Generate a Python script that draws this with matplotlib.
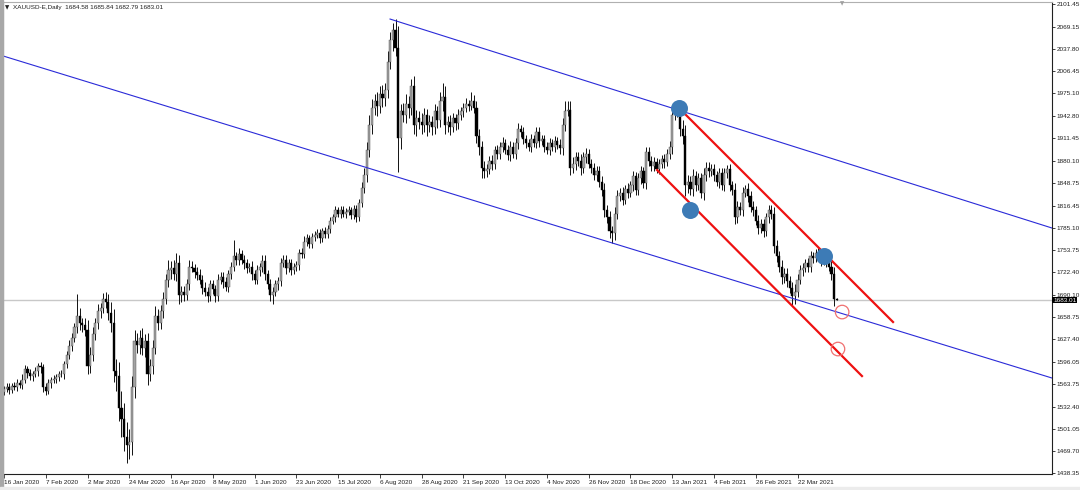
import matplotlib
matplotlib.use("Agg")
import matplotlib.pyplot as plt
import matplotlib.transforms as mtransforms
from matplotlib.patches import Rectangle
import numpy as np

# XAUUSD-E, Daily: closes, one per bar (16 Jan 2020 -> end Mar 2021)
CLOSE = [
    1557, 1560, 1556, 1562, 1560, 1565, 1563, 1570, 1585, 1580,
    1575, 1578, 1582, 1590, 1588, 1560, 1555, 1565, 1570, 1572,
    1574, 1578, 1578, 1592, 1605, 1618, 1630, 1645, 1660, 1650,
    1648, 1640, 1590, 1605, 1635, 1650, 1668, 1672, 1685, 1680,
    1665, 1650, 1582, 1575, 1530, 1515, 1490, 1478, 1482, 1560,
    1625, 1620, 1630, 1615, 1625, 1578, 1590, 1615, 1660, 1650,
    1668, 1685, 1712, 1725, 1728, 1720, 1735, 1690, 1695, 1690,
    1705, 1730, 1728, 1722, 1718, 1712, 1700, 1695, 1688, 1705,
    1698, 1688, 1712, 1716, 1708, 1702, 1720, 1730, 1745, 1740,
    1748, 1740, 1735, 1728, 1730, 1720, 1712, 1725, 1730, 1738,
    1720, 1705, 1690, 1695, 1705, 1710, 1735, 1740, 1728, 1735,
    1725, 1730, 1732, 1750, 1748, 1765, 1770, 1762, 1772, 1775,
    1778, 1770, 1780, 1776, 1784, 1795, 1800, 1810, 1805, 1810,
    1805, 1808, 1810, 1803, 1812, 1800, 1820, 1842, 1860, 1895,
    1930, 1955, 1965, 1958, 1975, 1968, 1980, 2020, 2050, 2065,
    2040, 1912, 1950, 1945, 1960, 1955, 1985, 1930, 1940, 1935,
    1930, 1945, 1930, 1935, 1928, 1950, 1938, 1965, 1970, 1930,
    1935, 1928, 1940, 1933, 1945, 1950, 1955, 1960, 1958, 1965,
    1955, 1915, 1900, 1870, 1865, 1868, 1880, 1875, 1895, 1890,
    1900, 1905, 1895, 1888, 1900, 1890, 1905, 1925, 1920, 1910,
    1905, 1900, 1910, 1905, 1920, 1908, 1910, 1900, 1895, 1905,
    1900, 1908, 1902, 1898, 1930, 1950, 1952, 1870, 1875, 1885,
    1880, 1870, 1885, 1890, 1875, 1870, 1860, 1865, 1850, 1838,
    1810, 1800, 1780, 1778, 1805, 1830, 1835, 1825, 1840, 1835,
    1845, 1858, 1838, 1855, 1865, 1848, 1892, 1880, 1872, 1878,
    1868, 1875, 1882, 1878, 1890, 1900, 1945, 1950, 1952, 1925,
    1915, 1845, 1850, 1840, 1858, 1845, 1855, 1835, 1860, 1870,
    1865, 1868, 1860, 1850, 1862, 1845, 1862, 1868, 1845, 1838,
    1800, 1815, 1810, 1835, 1840, 1830, 1815, 1810, 1795, 1785,
    1790, 1780, 1800, 1810, 1805, 1760, 1745, 1730, 1715, 1720,
    1710, 1700, 1688, 1695, 1712, 1725, 1728, 1735, 1730, 1745,
    1742, 1750, 1745, 1738, 1742, 1735, 1730, 1720, 1684.58, 1683.01,
]
FIRST_OPEN = 1553
LAST_OPEN = 1684.58

# upper / lower wick length (price units) per bar
WICK_UP = [
    4, 5, 6, 4, 5, 6, 5, 8, 6, 5,
    6, 5, 7, 4, 6, 5, 5, 6, 4, 5,
    5, 4, 6, 5, 6, 8, 7, 6, 31, 12,
    8, 10, 15, 12, 10, 8, 9, 7, 8, 10,
    12, 15, 20, 18, 20, 25, 22, 20, 18, 15,
    15, 12, 10, 14, 10, 12, 10, 12, 15, 10,
    8, 10, 8, 15, 10, 12, 15, 12, 8, 8,
    8, 10, 8, 6, 8, 9, 6, 8, 7, 6,
    7, 6, 8, 6, 7, 8, 6, 7, 23, 6,
    8, 6, 7, 6, 6, 8, 6, 7, 6, 8,
    8, 6, 8, 6, 7, 6, 8, 6, 7, 6,
    6, 5, 6, 5, 6, 8, 6, 5, 6, 5,
    5, 6, 5, 6, 5, 6, 5, 6, 5, 6,
    6, 5, 6, 5, 6, 5, 6, 8, 10, 12,
    15, 12, 10, 12, 10, 12, 10, 15, 12, 10,
    15, 30, 10, 12, 15, 12, 10, 15, 12, 10,
    12, 10, 8, 10, 8, 10, 8, 12, 20, 15,
    8, 10, 8, 6, 8, 6, 7, 8, 6, 12,
    8, 10, 10, 8, 10, 8, 7, 8, 6, 7,
    7, 8, 6, 7, 8, 6, 7, 8, 6, 7,
    7, 6, 8, 6, 7, 8, 6, 7, 6, 7,
    6, 7, 6, 8, 10, 15, 13, 12, 10, 8,
    8, 10, 7, 8, 6, 8, 7, 8, 7, 8,
    10, 8, 9, 8, 10, 8, 7, 8, 6, 8,
    7, 8, 6, 7, 8, 6, 8, 7, 6, 7,
    6, 7, 6, 8, 6, 8, 10, 8, 8, 10,
    12, 15, 10, 8, 10, 8, 7, 8, 10, 8,
    8, 7, 8, 6, 8, 7, 8, 6, 8, 7,
    10, 8, 7, 8, 6, 8, 7, 8, 6, 8,
    7, 8, 6, 8, 7, 10, 8, 8, 10, 8,
    8, 7, 8, 10, 8, 7, 8, 6, 8, 7,
    6, 5, 6, 7, 6, 5, 6, 8, 10, 1.26,
]
WICK_DN = [
    5, 4, 6, 5, 4, 6, 5, 6, 5, 7,
    5, 6, 4, 6, 8, 7, 6, 5, 6, 5,
    6, 5, 4, 6, 5, 6, 7, 6, 8, 10,
    10, 8, 12, 10, 8, 9, 8, 10, 7, 8,
    10, 12, 15, 20, 18, 25, 20, 25, 20, 18,
    15, 12, 14, 10, 12, 15, 10, 12, 8, 10,
    8, 10, 8, 10, 12, 8, 10, 12, 10, 8,
    7, 8, 6, 8, 7, 6, 8, 7, 8, 6,
    7, 8, 6, 7, 8, 6, 8, 7, 6, 8,
    7, 6, 8, 7, 6, 8, 7, 6, 8, 7,
    8, 7, 8, 13, 6, 8, 7, 6, 8, 6,
    6, 5, 6, 6, 5, 6, 5, 6, 5, 6,
    5, 6, 5, 6, 5, 6, 5, 6, 5, 6,
    5, 6, 5, 6, 5, 6, 5, 6, 8, 10,
    10, 12, 10, 15, 10, 12, 10, 12, 10, 15,
    12, 48, 15, 10, 12, 15, 10, 12, 15, 10,
    12, 10, 15, 10, 12, 10, 12, 10, 15, 12,
    10, 12, 8, 10, 8, 7, 8, 6, 8, 7,
    8, 10, 12, 14, 10, 8, 7, 8, 7, 8,
    7, 8, 6, 7, 8, 6, 7, 8, 6, 7,
    7, 6, 8, 6, 7, 8, 6, 7, 6, 7,
    6, 7, 6, 8, 10, 8, 7, 10, 8, 8,
    8, 10, 7, 8, 6, 8, 7, 8, 7, 8,
    10, 8, 9, 14, 10, 8, 7, 8, 6, 8,
    7, 8, 6, 7, 8, 6, 8, 7, 6, 7,
    6, 7, 6, 8, 6, 8, 10, 8, 8, 10,
    12, 15, 10, 8, 10, 8, 7, 8, 10, 8,
    8, 7, 8, 6, 8, 7, 8, 6, 8, 7,
    10, 8, 7, 8, 6, 8, 7, 8, 6, 8,
    7, 8, 6, 8, 7, 10, 8, 8, 10, 8,
    8, 7, 12, 10, 8, 7, 8, 6, 8, 7,
    6, 5, 6, 7, 6, 5, 6, 8, 10, 0.22,
]

DATE_LABELS = ["16 Jan 2020", "7 Feb 2020", "2 Mar 2020", "24 Mar 2020",
               "16 Apr 2020", "8 May 2020", "1 Jun 2020", "23 Jun 2020",
               "15 Jul 2020", "6 Aug 2020", "28 Aug 2020", "21 Sep 2020",
               "13 Oct 2020", "4 Nov 2020", "26 Nov 2020", "18 Dec 2020",
               "13 Jan 2021", "4 Feb 2021", "26 Feb 2021", "22 Mar 2021"]
BARS_PER_LABEL = 16
PRICE_TICKS = [2101.45, 2069.15, 2037.80, 2006.45, 1975.10, 1942.80, 1911.45,
               1880.10, 1848.75, 1816.45, 1785.10, 1753.75, 1722.40, 1690.10,
               1658.75, 1627.40, 1596.05, 1563.75, 1532.40, 1501.05, 1469.70,
               1438.35]
LAST = 1683.01
HEADER = "XAUUSD-E,Daily  1684.58 1685.84 1682.79 1683.01"

# drawn objects: (bar, price) anchors
BLUE_UPPER = [(147.9, 2080.3), (401.5, 1784.8)]
BLUE_LOWER = [(-1.5, 2029.4), (401.5, 1572.7)]
RED_UPPER = [(258.6, 1954.5), (340.6, 1651.9)]
RED_LOWER = [(250.2, 1866.8), (328.7, 1575.5)]
DOTS = [(258.6, 1954.5), (262.8, 1810.3), (314.2, 1745.2)]
RINGS = [(321.1, 1666.0), (319.5, 1613.7)]

plt.rcParams["font.family"] = ["Liberation Sans", "DejaVu Sans"]
FS = 4.6

c = np.array(CLOSE, dtype=float)
o = np.concatenate([[FIRST_OPEN], c[:-1]])
o[-1] = LAST_OPEN
hi = np.maximum(o, c) + np.array(WICK_UP)
lo = np.minimum(o, c) - np.array(WICK_DN)
x = np.arange(len(c))

fig = plt.figure(figsize=(10.8, 4.9), dpi=100, facecolor="white")
ax = fig.add_axes([3 / 1080, 16 / 490, 1049 / 1080, 472 / 490])
ax.set_xlim(-0.38, 401.5)
ax.set_ylim(1437.0, 2104.4)

# current price line
ax.axhline(LAST, color="#c8c8c8", lw=1.0, zorder=1)

# candles
ax.vlines(x, lo, hi, color="#111111", lw=0.7, zorder=2)
up = c >= o
body = np.maximum(np.abs(c - o), 0.8)
ax.bar(x[up], body[up], bottom=np.minimum(o, c)[up], width=0.82,
       color="#a3a3a3", edgecolor="#4a4a4a", linewidth=0.3, zorder=3)
ax.bar(x[~up], body[~up], bottom=np.minimum(o, c)[~up], width=0.82,
       color="black", edgecolor="black", linewidth=0.3, zorder=3)

# channel lines
for ln in (BLUE_UPPER, BLUE_LOWER):
    ax.plot(*zip(*ln), color="#2a2ad8", lw=0.8, zorder=4)
for ln in (RED_UPPER, RED_LOWER):
    ax.plot(*zip(*ln), color="#ee1111", lw=1.6, zorder=4)
ax.scatter(*zip(*DOTS), s=150, color="#3d7bb6", zorder=5, linewidths=0)
ax.scatter(*zip(*RINGS), s=95, facecolors="none", edgecolors="#f07070",
           linewidths=0.9, zorder=5)

# axes styling (MT4 look)
for side in ("left", "top"):
    ax.spines[side].set_color("#b0b0b0")
    ax.spines[side].set_linewidth(0.8)
for side in ("right", "bottom"):
    ax.spines[side].set_color("#202020")
    ax.spines[side].set_linewidth(0.8)

ax.yaxis.tick_right()
ax.set_yticks(PRICE_TICKS)
ax.set_yticklabels([f"{v:.2f}" for v in PRICE_TICKS])
ax.tick_params(axis="y", direction="out", length=2.5, width=0.6, pad=0.8,
               labelsize=FS, colors="#202020")

ticks = np.arange(len(DATE_LABELS)) * BARS_PER_LABEL
ax.set_xticks(ticks)
ax.set_xticklabels(DATE_LABELS, ha="left")
ax.tick_params(axis="x", direction="out", length=3, width=0.6, pad=1.5,
               labelsize=FS, colors="#202020")

# last price box on the scale
tr = mtransforms.blended_transform_factory(ax.transAxes, ax.transData)
ax.text(1.001, LAST, f"{LAST:.2f}", transform=tr, ha="left", va="center",
        fontsize=FS, color="white", zorder=10, clip_on=False,
        bbox=dict(facecolor="black", edgecolor="none", pad=0.7))

# header and window frame
fig.text(5 / 1080, 1 - 8 / 490, "\u25bc", family="DejaVu Sans", fontsize=4,
         va="center", ha="left", color="#202020")
fig.text(13 / 1080, 1 - 8 / 490, HEADER, fontsize=FS, va="center", ha="left",
         color="#202020")
fig.text(842 / 1080, 1 - 4 / 490, "\u25bc", family="DejaVu Sans", fontsize=4,
         va="center", ha="center", color="#a0a0a0")
fig.patches.append(Rectangle((0, 0), 3 / 1080, 1, transform=fig.transFigure,
                             color="#a8a8a8", zorder=0))
fig.patches.append(Rectangle((0, 0), 1, 3 / 490, transform=fig.transFigure,
                             color="#ececec", zorder=0))

fig.savefig("out.png", dpi=100, facecolor="white")
